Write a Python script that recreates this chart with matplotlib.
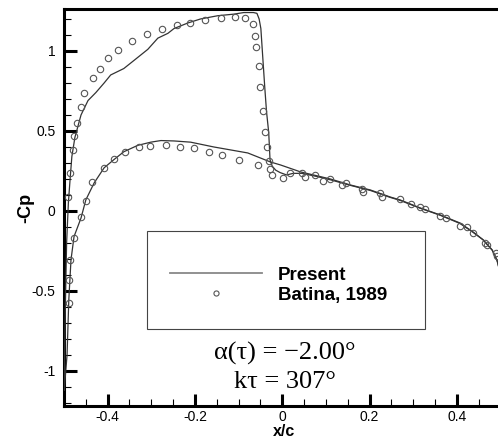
import matplotlib
matplotlib.use("Agg")
import matplotlib.pyplot as plt
from matplotlib.ticker import MultipleLocator, FormatStrFormatter
from matplotlib.patches import Rectangle

plt.rcParams['font.family'] = ['Liberation Sans', 'DejaVu Sans']
plt.rcParams['axes.unicode_minus'] = False

# present computation, upper surface (leading edge -> shock -> trailing edge)
up_x = [-0.4995, -0.497, -0.494, -0.490, -0.486, -0.482, -0.475, -0.461, -0.445,
        -0.427, -0.408, -0.393, -0.363, -0.340, -0.308, -0.285, -0.262, -0.248,
        -0.216, -0.187, -0.148, -0.111, -0.088, -0.066, -0.058, -0.053, -0.049,
        -0.045, -0.040, -0.036, -0.031, -0.028, -0.023, -0.015, -0.005, 0.010,
        0.025, 0.045, 0.080, 0.110, 0.156, 0.202, 0.247, 0.270, 0.316, 0.362,
        0.407, 0.437, 0.460, 0.481, 0.492, 0.497, 0.4995]
up_cp = [-1.12, -0.60, -0.20, 0.05, 0.20, 0.34, 0.46, 0.60, 0.69,
         0.74, 0.80, 0.85, 0.89, 0.94, 1.01, 1.08, 1.11, 1.14,
         1.175, 1.20, 1.22, 1.23, 1.24, 1.24, 1.235, 1.20, 1.14,
         0.975, 0.77, 0.62, 0.49, 0.32, 0.28, 0.255, 0.24, 0.225,
         0.235, 0.235, 0.215, 0.195, 0.16, 0.128, 0.085, 0.066, 0.017, -0.027,
         -0.078, -0.133, -0.18, -0.245, -0.31, -0.36, -0.40]

# present computation, lower surface
lo_x = [-0.4995, -0.493, -0.489, -0.484, -0.477, -0.461, -0.450, -0.431, -0.408,
        -0.386, -0.363, -0.331, -0.301, -0.278, -0.248, -0.210, -0.157, -0.079,
        -0.027, -0.004, 0.042, 0.110, 0.156, 0.202, 0.247, 0.270, 0.316, 0.362,
        0.407, 0.437, 0.460, 0.481, 0.492, 0.4975, 0.4995]
lo_cp = [-1.12, -0.90, -0.556, -0.306, -0.16, -0.044, 0.069, 0.175, 0.27,
         0.32, 0.37, 0.41, 0.43, 0.44, 0.4375, 0.43, 0.40, 0.3625,
         0.306, 0.2875, 0.244, 0.20, 0.1625, 0.131, 0.0875, 0.069, 0.019, -0.025,
         -0.075, -0.131, -0.18, -0.244, -0.306, -0.37, -0.40]

# Batina, 1989
bat_x = [-0.490, -0.486, -0.479, -0.477, -0.470, -0.461, -0.454, -0.434, -0.418,
         -0.399, -0.376, -0.344, -0.310, -0.276, -0.242, -0.212, -0.178, -0.141,
         -0.109, -0.086, -0.068, -0.063, -0.061, -0.054, -0.052, -0.045, -0.040,
         -0.036, -0.031, -0.029, -0.024, 0.001, 0.046, 0.076, 0.110, 0.147,
         0.186, 0.229, 0.295, 0.328, 0.376, 0.424, 0.465, 0.492,
         -0.488, -0.488, -0.486, -0.477, -0.461, -0.450, -0.436, -0.408, -0.386,
         -0.360, -0.328, -0.303, -0.267, -0.234, -0.202, -0.168, -0.137, -0.098,
         -0.056, 0.017, 0.053, 0.094, 0.138, 0.183, 0.225, 0.270, 0.316, 0.362,
         0.407, 0.437, 0.469, 0.490]
bat_cp = [0.0875, 0.2375, 0.38, 0.47, 0.55, 0.65, 0.74, 0.83, 0.89,
          0.956, 1.006, 1.0625, 1.106, 1.1375, 1.1625, 1.175, 1.194, 1.206,
          1.2125, 1.206, 1.169, 1.094, 1.025, 0.906, 0.775, 0.625, 0.494,
          0.40, 0.3125, 0.2625, 0.225, 0.206, 0.2375, 0.225, 0.20, 0.175,
          0.119, 0.0875, 0.044, 0.0125, -0.044, -0.10, -0.20, -0.281,
          -0.575, -0.431, -0.306, -0.169, -0.0375, 0.0625, 0.181, 0.269, 0.325,
          0.369, 0.40, 0.406, 0.4125, 0.40, 0.394, 0.369, 0.35, 0.319,
          0.2875, 0.2375, 0.2125, 0.1875, 0.1625, 0.1375, 0.1125, 0.075, 0.025, -0.031,
          -0.094, -0.1375, -0.2125, -0.2625]

x_ticks = [-0.4, -0.2, 0, 0.2, 0.4]
y_ticks = [-1, -0.5, 0, 0.5, 1]

fig = plt.figure(figsize=(4.98, 4.48), dpi=100)
ax = fig.add_axes([64 / 498, 42.3 / 448, 436.5 / 498, 396.2 / 448])

ax.plot(up_x, up_cp, color='#333333', lw=0.9, label='Present', zorder=3)
ax.plot(lo_x, lo_cp, color='#333333', lw=0.9, zorder=3)
ax.plot(bat_x, bat_cp, ls='none', marker='o', ms=4.6, mfc='none',
        mec='#555555', mew=0.8, label='Batina, 1989', zorder=4)

ax.set_xlim(-0.5, 0.5)
ax.set_ylim(-1.217, 1.259)
ax.set_xticks(x_ticks)
ax.set_yticks(y_ticks)
ax.xaxis.set_major_formatter(FormatStrFormatter('%g'))
ax.yaxis.set_major_formatter(FormatStrFormatter('%g'))
ax.xaxis.set_minor_locator(MultipleLocator(0.05))
ax.yaxis.set_minor_locator(MultipleLocator(0.1))
ax.tick_params(which='major', direction='in', length=9, width=2.2,
               labelsize=10, top=False, right=False)
ax.tick_params(axis='x', which='major', pad=3)
ax.tick_params(axis='y', which='major', pad=6)
ax.tick_params(which='minor', direction='in', length=5, width=0.8,
               top=False, right=False)
for s in ['left', 'bottom', 'top']:
    ax.spines[s].set_linewidth(2.2)
ax.spines['right'].set_visible(False)

ax.set_xlabel('x/c', fontsize=11.5, fontweight='bold')
ax.xaxis.set_label_coords(0.505, -0.046)
ax.set_ylabel('-Cp', fontsize=13, fontweight='bold')
ax.yaxis.set_label_coords(-0.068, 0.5)

# legend box
ax.add_patch(Rectangle((0.191, 0.193), 0.636, 0.248, transform=ax.transAxes,
                       fill=True, fc='white', ec='#444444', lw=0.8, zorder=5))
leg = ax.legend(loc='center left', bbox_to_anchor=(0.243, 0.304), frameon=False,
                prop={'weight': 'bold', 'size': 13.5},
                handlelength=4.9, handletextpad=0.85, labelspacing=0.15,
                borderpad=0, borderaxespad=0, markerscale=0.8)
leg.set_zorder(6)
leg.get_lines()[0].set_color('#888888')
leg.get_lines()[0].set_linewidth(1.3)

ax.text(0.506, 0.117, 'α(τ) = −2.00°', transform=ax.transAxes, ha='center',
        va='baseline', fontsize=19, family=['Liberation Serif', 'DejaVu Serif'])
ax.text(0.506, 0.044, 'kτ = 307°', transform=ax.transAxes, ha='center',
        va='baseline', fontsize=19, family=['Liberation Serif', 'DejaVu Serif'])

fig.savefig('out.png', dpi=100)
